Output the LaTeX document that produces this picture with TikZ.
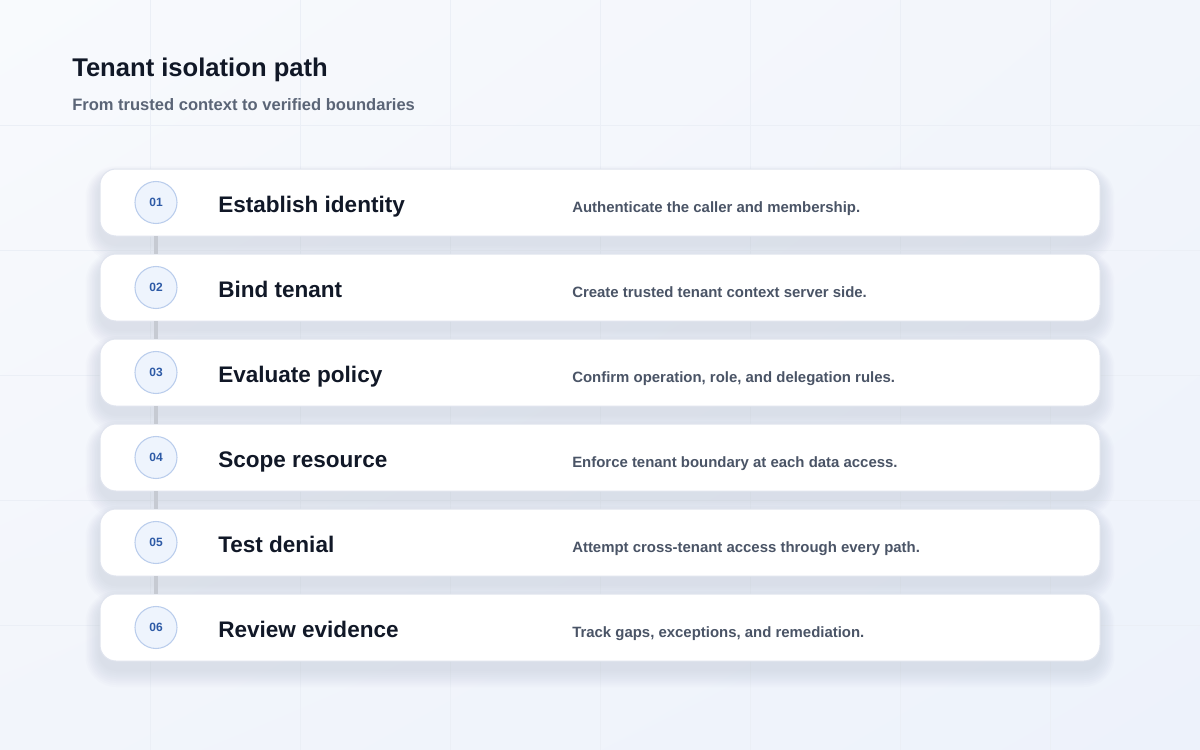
\documentclass[tikz,border=0pt]{standalone}
\usepackage{fontspec}
\setmainfont{Liberation Sans}
\usetikzlibrary{shadings}
\definecolor{bgA}{HTML}{F8FAFD}
\definecolor{bgB}{HTML}{F2F5FB}
\definecolor{bgC}{HTML}{EDF2FB}
\definecolor{gridc}{HTML}{EBEFF6}
\definecolor{shadowc}{HTML}{8C95AC}
\definecolor{cardline}{HTML}{E0E4EE}
\definecolor{titlec}{HTML}{111827}
\definecolor{subc}{HTML}{5B6577}
\definecolor{descc}{HTML}{4A5466}
\definecolor{numc}{HTML}{2D5AA6}
\definecolor{circfill}{HTML}{EEF4FD}
\definecolor{circline}{HTML}{BACDEC}
\definecolor{linkc}{HTML}{C6CAD2}
\tikzset{
  card/.style={draw=cardline, line width=0.75pt, fill=white, rounded corners=12pt,
    minimum width=750pt, minimum height=50.25pt, inner sep=0pt, outer sep=0pt},
  numcirc/.style={circle, draw=circline, line width=0.8pt, fill=circfill,
    minimum size=31.5pt, inner sep=0pt, font=\fontsize{9}{10}\selectfont\bfseries, text=numc},
  steptitle/.style={anchor=base west, inner sep=0pt, font=\fontsize{16.9}{18}\selectfont\bfseries, text=titlec},
  stepdesc/.style={anchor=base west, inner sep=0pt, font=\fontsize{11.2}{13}\selectfont\bfseries, text=descc},
  link/.style={draw=linkc, line width=2.4pt}
}
\begin{document}
\begin{tikzpicture}[x=0.75pt,y=-0.75pt]
\useasboundingbox (0,0) rectangle (1200,750);
\shade[upper left=bgA, upper right=bgB, lower left=bgB, lower right=bgC] (0,0) rectangle (1200,750);
% faint grid
\foreach \gx in {150,300,...,1050} \draw[gridc, line width=0.75pt] (\gx,0) -- (\gx,750);
\foreach \gy in {125,250,...,625} \draw[gridc, line width=0.75pt] (0,\gy) -- (1200,\gy);
% title
\node[anchor=base west, inner sep=0pt, font=\fontsize{19.2}{22}\selectfont\bfseries, text=titlec] (title) at (72,76) {Tenant isolation path};
\node[anchor=base west, inner sep=0pt, font=\fontsize{12.4}{14}\selectfont\bfseries, text=subc] (subtitle) at (72,110) {From trusted context to verified boundaries};
% shadows
\foreach \i in {0,...,5}{
  \foreach \k in {1,...,9}{
    \fill[shadowc, opacity=0.024, rounded corners=12pt+\k*1.2pt]
      (100-\k*1.6, 169+85*\i+8-\k*1.2) rectangle (1100+\k*1.6, 236+85*\i+8+\k*2);
  }
}
% cards
\foreach \i/\num/\ttl/\dsc in {
  1/01/Establish identity/Authenticate the caller and membership.,
  2/02/Bind tenant/Create trusted tenant context server side.,
  3/03/Evaluate policy/{Confirm operation, role, and delegation rules.},
  4/04/Scope resource/Enforce tenant boundary at each data access.,
  5/05/Test denial/Attempt cross-tenant access through every path.,
  6/06/Review evidence/{Track gaps, exceptions, and remediation.}}{
  \pgfmathsetmacro{\yc}{202.5+85*(\i-1)}
  \node[card] (card\i) at (600,\yc) {};
  \node[steptitle] (t\i) at (218,\yc+9.5) {\ttl};
  \node[stepdesc] (d\i) at (572,\yc+9.5) {\dsc};
  \node[numcirc] (c\i) at (156,\yc) {\num};
}
% connectors
\foreach \a/\b in {1/2,2/3,3/4,4/5,5/6}{
  \draw[link] (c\a |- card\a.south) -- (c\b |- card\b.north);
}
\end{tikzpicture}
\end{document}
